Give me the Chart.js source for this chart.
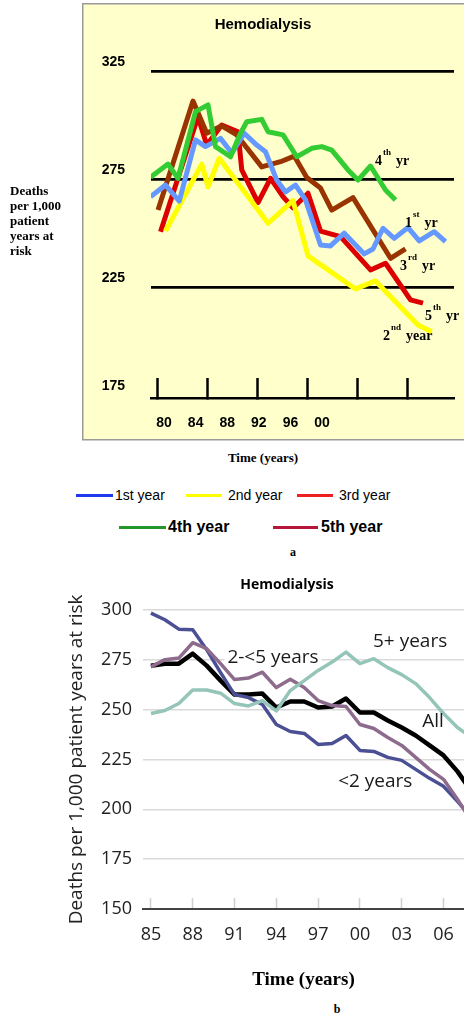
<!DOCTYPE html>
<html><head><meta charset="utf-8">
<script src="https://cdn.jsdelivr.net/npm/chart.js@4.4.1/dist/chart.umd.min.js"></script>
<style>
html,body{margin:0;padding:0;width:464px;height:1017px;overflow:hidden;background:#fff;}
#ca{position:absolute;left:0;top:0;}
#cb{position:absolute;left:0;top:560px;}
.t{position:absolute;white-space:nowrap;}
.serif{font-family:'Liberation Serif','Times New Roman',serif;font-weight:bold;color:#000;}
.lg{position:absolute;height:20px;font-family:'Liberation Sans',Arial,sans-serif;color:#000;white-space:nowrap;display:flex;align-items:center;}
.lg i{display:inline-block;height:3px;}
</style></head><body>
<canvas id="ca" width="526" height="442"></canvas>
<canvas id="cb" width="574" height="440"></canvas>
<div class="t serif" style="left:10px;top:183px;font-size:13px;line-height:15px;">Deaths<br>per 1,000<br>patient<br>years at<br>risk</div>
<div class="t serif" style="left:263px;top:450px;font-size:13px;transform:translateX(-50%);">Time (years)</div>
<div id="legendA"></div>
<div class="t serif" style="left:293px;top:545px;font-size:12px;transform:translateX(-50%);">a</div>
<div class="t serif" style="left:337px;top:1002px;font-size:12px;transform:translateX(-50%);">b</div>
<script>
// ---------- Panel a data (x = year, y = deaths per 1,000) ----------
const a4thX = [1979.4,1980.8,1981.6,1983.0,1984.0,1984.6,1985.8,1986.6,1987.1,1988.3,1988.8,1990.0,1991.1,1992.3,1993.1,1993.9,1995.2,1996.0,1997.0,1998.2,1999.0];
const a4thY = [275.8,281.9,275.3,306.2,309.3,290.0,285.3,296.2,301.5,302.6,296.9,295.4,285.3,289.2,290.0,288.4,279.2,274.5,281.0,269.9,265.3];
const a1stX = [1979.4,1980.6,1981.7,1983.0,1983.8,1985.0,1985.9,1986.9,1987.9,1988.6,1989.5,1990.2,1991.0,1991.8,1993.0,1993.8,1994.9,1996.5,1997.2,1998.0,1998.9,2000.0,2000.9,2002.1,2003.0];
const a1stY = [266.8,272.2,264.8,293.1,290.0,293.8,287.0,296.2,290.7,287.6,274.5,269.0,272.2,265.3,244.4,244.0,249.9,240.3,242.6,252.2,247.5,252.5,246.3,250.6,246.0];
const a2ndX = [1980.6,1983.5,1984.0,1984.9,1988.8,1990.8,1992.0,1995.8,1997.4,2000.8,2001.9];
const a2ndY = [250.9,281.9,271.4,284.6,254.5,265.0,239.4,224.1,227.8,207.4,204.3];
const aBrownX = [1980.0,1982.8,1983.9,1985.1,1986.3,1988.3,1989.8,1990.9,1991.9,1993.0,1993.9,1995.6,1998.6,1999.8];
const aBrownY = [260.6,311.1,296.2,299.6,295.4,280.6,283.0,285.6,275.7,270.8,260.6,266.4,238.3,242.6];
const aRedX = [1980.2,1983.2,1983.9,1985.1,1986.4,1986.7,1988.0,1989.0,1990.0,1990.8,1992.0,1993.0,1994.6,1997.0,1998.2,2000.2,2001.2];
const aRedY = [250.6,303.8,290.7,300.0,296.9,279.2,264.1,275.3,266.8,261.6,268.4,250.9,248.3,232.9,236.0,219.0,217.5];
const aTickYears = [1980,1984,1988,1992,1996,2000];
const aTickLabels = ['80','84','88','92','96','00'];
const aYTicks = [175,225,275,325];
const aLegendLabels = ['1st year','2nd year','3rd year','4th year','5th year'];
const aLegendColors = ['#1f37ee','#ffff00','#ee2020','#22982a','#b5163a'];

// ---------- Panel b data ----------
const bYears = [1985,1986,1987,1988,1989,1990,1991,1992,1993,1994,1995,1996,1997,1998,1999,2000,2001,2002,2003,2004,2005,2006,2007,2008];
const bAll   = [272,273,273,278,272,264.5,257.5,257.5,258,251,254,254,251,251.5,255.5,248.5,248.5,244.5,241,237,232,227,219,209];
const bLt2   = [298.3,295,290.3,290,280,268.5,257.5,256,252.5,242.5,239,238,232.5,233,237,229.5,229,226,224.5,220,215.5,211.5,204,196];
const b2to5  = [271.4,275,275.8,283.5,280.5,273,265,265.8,268.7,261,265.2,261,254.5,252,251.5,242.5,240.5,236,232,226,220,215,205,194];
const b5plus = [248,249.5,253,259.8,259.8,258.2,253,251.8,254.5,249.3,259.5,264.5,269.6,273.8,278.8,273,275.5,271,267.5,263,256,248,241,236];
const bXTicks = [1985,1988,1991,1994,1997,2000,2003,2006];
const bXTickLabels = ['85','88','91','94','97','00','03','06'];
const bYTicks = [150,175,200,225,250,275,300];

const pts = (xs, ys) => xs.map((x, i) => ({x, y: ys[i]}));

// ---------- Panel a ----------
const aNotes = [
  {main:'4', sup:'th', tail:'yr',   x:1997.36, y:281.5},
  {main:'1', sup:'st', tail:'yr',   x:1999.76, y:252.8},
  {main:'3', sup:'rd', tail:'yr',   x:1999.36, y:232.9},
  {main:'5', sup:'th', tail:'yr',   x:2001.36, y:209.7},
  {main:'2', sup:'nd', tail:'year', x:1998.0,  y:200.5}
];
const boxPlugin = {
  id:'boxA',
  beforeDraw(chart){
    const {ctx} = chart;
    ctx.save();
    ctx.fillStyle = '#FFFFCC';
    ctx.fillRect(82, 3, chart.width - 82, 437);
    ctx.strokeStyle = '#9a9a9a'; ctx.lineWidth = 1.5;
    ctx.strokeRect(82.75, 3.75, chart.width, 436);
    ctx.restore();
  }
};
const notesA = {
  id:'notesA',
  afterDatasetsDraw(chart){
    const {ctx, scales:{x, y}} = chart;
    ctx.save(); ctx.fillStyle = '#000'; ctx.textAlign = 'left'; ctx.textBaseline = 'alphabetic';
    for (const n of aNotes){
      let px = x.getPixelForValue(n.x); const py = y.getPixelForValue(n.y);
      ctx.font = 'bold 14px "Liberation Serif"';
      ctx.fillText(n.main, px, py); px += ctx.measureText(n.main).width + 1;
      ctx.font = 'bold 9px "Liberation Serif"';
      ctx.fillText(n.sup, px, py - 10); px += ctx.measureText(n.sup).width + 5;
      ctx.font = 'bold 14px "Liberation Serif"';
      ctx.fillText(n.tail, px, py);
    }
    ctx.restore();
  }
};
const lineA = (label, data, color) => ({label, data, borderColor:color, backgroundColor:color, borderWidth:5, pointRadius:0, tension:0, borderJoinStyle:'round', borderCapStyle:'butt', xAxisID:'x', yAxisID:'y'});
const aFont = (size, weight) => ({family:'Liberation Sans', size, weight});

new Chart(document.getElementById('ca'), {
  type:'line',
  data:{datasets:[
    lineA('4th year', pts(a4thX, a4thY), '#33cc33'),
    lineA('1st year', pts(a1stX, a1stY), '#6699ff'),
    lineA('2nd year', pts(a2ndX, a2ndY), '#ffff00'),
    lineA('3rd year', pts(aBrownX, aBrownY), '#993300'),
    lineA('5th year', pts(aRedX, aRedY), '#dd0000')
  ]},
  options:{
    responsive:false, animation:false, devicePixelRatio:1,
    layout:{padding:0},
    plugins:{legend:{display:false}, tooltip:{enabled:false},
      title:{display:true, text:'Hemodialysis', color:'#000', font:aFont(15,'bold'), padding:{top:16, bottom:37}}},
    scales:{
      x:{type:'linear', position:'bottom', min:1979.44, max:2003.68, weight:0,
        afterBuildTicks:s=>{s.ticks = aTickYears.map(v=>({value:v}));},
        afterFit:s=>{s.height = 0;},
        grid:{drawOnChartArea:false, drawTicks:true, tickLength:-20, tickColor:'#000', tickWidth:2.5},
        border:{display:true, color:'#000', width:2.5},
        ticks:{display:false}},
      xl:{type:'linear', position:'bottom', min:1978.35, max:2016.7, weight:1,
        afterBuildTicks:s=>{s.ticks = aTickYears.map(v=>({value:v}));},
        afterFit:s=>{s.height = 44;},
        grid:{display:false}, border:{display:false},
        ticks:{autoSkip:false, maxRotation:0, padding:9, color:'#000', font:aFont(14,'bold'), callback:(v,i)=>aTickLabels[i]}},
      y:{type:'linear', min:173.6, max:325,
        afterBuildTicks:s=>{s.ticks = aYTicks.map(v=>({value:v}));},
        afterFit:s=>{s.width = 151;},
        grid:{color:c=>c.tick && c.tick.value===175 ? 'rgba(0,0,0,0)' : '#000', lineWidth:2.7, drawTicks:false},
        border:{display:false},
        ticks:{padding:26, labelOffset:-9, color:'#000', font:aFont(14,'bold')}},
      pad:{type:'linear', position:'right', display:true, afterFit:s=>{s.width = 72;},
        grid:{display:false}, border:{display:false}, ticks:{display:false}}
    }
  },
  plugins:[boxPlugin, notesA]
});

// legend for panel a (HTML)
(function(){
  const items = [
    {i:0, left:76,  top:485, w:37, gap:2, size:14, weight:'normal'},
    {i:1, left:186, top:485, w:36, gap:6, size:14, weight:'normal'},
    {i:2, left:297, top:485, w:36, gap:6, size:14, weight:'normal'},
    {i:3, left:119, top:517, w:47, gap:2, size:16, weight:'bold'},
    {i:4, left:273, top:517, w:45, gap:3, size:16, weight:'bold'}
  ];
  const host = document.getElementById('legendA');
  for (const it of items){
    const d = document.createElement('div');
    d.className = 'lg';
    d.style.left = it.left + 'px'; d.style.top = it.top + 'px';
    d.style.fontSize = it.size + 'px'; d.style.fontWeight = it.weight;
    d.innerHTML = '<i style="width:' + it.w + 'px;background:' + aLegendColors[it.i] + ';margin-right:' + it.gap + 'px"></i><span>' + aLegendLabels[it.i] + '</span>';
    host.appendChild(d);
  }
})();

// ---------- Panel b ----------
const bNotes = [
  {t:'2-<5 years', x:1993.76, y:276},
  {t:'5+ years',   x:2003.6,  y:284},
  {t:'All',        x:2005.24, y:244},
  {t:'<2 years',   x:2001.1,  y:214}
];
const bLabelFont = '19px "Open Sans"';
const notesB = {
  id:'notesB',
  beforeDatasetsDraw(chart){
    const {ctx, scales:{x, y}} = chart;
    ctx.save(); ctx.font = bLabelFont; ctx.fillStyle = '#fff';
    for (const n of bNotes){
      const w = ctx.measureText(n.t).width;
      ctx.fillRect(x.getPixelForValue(n.x) - w/2 - 3, y.getPixelForValue(n.y) - 10, w + 6, 20);
    }
    ctx.restore();
  },
  afterDatasetsDraw(chart){
    const {ctx, scales:{x, y}} = chart;
    ctx.save(); ctx.font = bLabelFont; ctx.fillStyle = '#1a1a1a'; ctx.textAlign = 'center'; ctx.textBaseline = 'middle';
    for (const n of bNotes) ctx.fillText(n.t, x.getPixelForValue(n.x), y.getPixelForValue(n.y));
    ctx.restore();
  }
};
const lineB = (label, vals, color, w) => ({label, data: pts(bYears, vals), borderColor:color, backgroundColor:color, borderWidth:w, pointRadius:0, tension:0, borderJoinStyle:'round'});
const bFont = (size, weight) => ({family:'Open Sans', size, weight});

new Chart(document.getElementById('cb'), {
  type:'line',
  data:{datasets:[
    lineB('5+ years', b5plus, '#94c5b8', 3.5),
    lineB('2-<5 years', b2to5, '#8d6b8c', 3.5),
    lineB('<2 years', bLt2, '#4b5095', 3.5),
    lineB('All', bAll, '#000000', 4.5)
  ]},
  options:{
    responsive:false, animation:false, devicePixelRatio:1,
    layout:{padding:0},
    plugins:{legend:{display:false}, tooltip:{enabled:false},
      title:{display:true, text:'Hemodialysis', color:'#000', font:bFont(14,'bold'), padding:{top:17, bottom:16}}},
    scales:{
      x:{type:'linear', position:'bottom', min:1984.43, max:2007.47,
        afterBuildTicks:s=>{s.ticks = bXTicks.map(v=>({value:v}));},
        afterFit:s=>{s.height = 91;},
        grid:{drawOnChartArea:false, drawTicks:true, tickLength:-11, tickColor:'#cfcfcf', tickWidth:1.5},
        border:{display:true, color:'#444', width:2},
        ticks:{autoSkip:false, maxRotation:0, padding:26, color:'#222', font:bFont(18), callback:(v,i)=>bXTickLabels[i]},
        title:{display:true, text:'Time (years)', color:'#000', font:{family:'Liberation Serif', size:19, weight:'bold'}, padding:{top:0, bottom:9}}},
      y:{type:'linear', min:150, max:300,
        afterBuildTicks:s=>{s.ticks = bYTicks.map(v=>({value:v}));},
        afterFit:s=>{s.width = 143;},
        grid:{color:c=>c.tick && c.tick.value===150 ? 'rgba(0,0,0,0)' : '#dadada', lineWidth:1.5, drawTicks:false},
        border:{display:false},
        ticks:{padding:11, color:'#222', font:bFont(18)},
        title:{display:true, text:'Deaths per 1,000 patient years at risk', color:'#222', font:bFont(19), padding:{top:65, bottom:0}}},
      pad:{type:'linear', position:'right', display:true, afterFit:s=>{s.width = 110;},
        grid:{display:false}, border:{display:false}, ticks:{display:false}}
    }
  },
  plugins:[notesB]
});
</script>
</body></html>
